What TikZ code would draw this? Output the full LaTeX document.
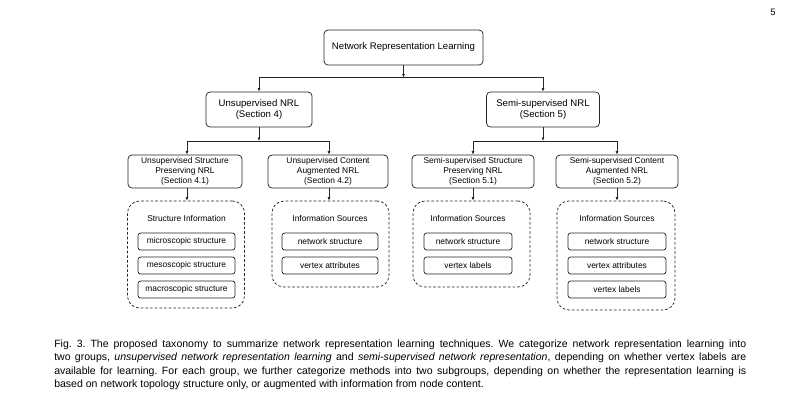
\documentclass[tikz,border=0pt]{standalone}
\usepackage{fontspec}
\setmainfont{Liberation Sans}
\usetikzlibrary{arrows.meta}
\begin{document}
\begin{tikzpicture}[x=0.75pt,y=-0.75pt,
  sz/.style 2 args={minimum width=#1*0.75pt, minimum height=#2*0.75pt},
  box/.style={draw=black!85, line width=0.55pt, rounded corners=3pt, inner sep=0pt, align=center},
  big/.style={box, font=\fontsize{7.2}{8.8}\selectfont},
  mid/.style={box, font=\fontsize{6.3}{7.6}\selectfont},
  item/.style={box, rounded corners=2pt, font=\fontsize{6.3}{7.6}\selectfont, minimum height=17*0.75pt},
  cont/.style={draw=black!85, line width=0.55pt, dashed, dash pattern=on 2pt off 1.5pt, rounded corners=9pt, inner sep=0pt},
  ttl/.style={font=\fontsize{6.3}{7.6}\selectfont, inner sep=0pt},
  arr/.style={draw=black!85, line width=0.55pt, -{Latex[length=2.6pt,width=2.2pt]}},
  ln/.style={draw=black!85, line width=0.55pt}
]
\useasboundingbox (0,0) rectangle (800,415);

% page number
\node[font=\fontsize{7}{8}\selectfont, inner sep=0pt] (pg) at (773,12) {5};

% level 1
\node[big, sz={159}{35}] (top) at (403.5,47.5) {Network Representation Learning};
% level 2
\node[big, sz={106}{35}] (un) at (259,109.5) {Unsupervised NRL\\(Section 4)};
\node[big, sz={113}{35}] (semi) at (543,109.5) {Semi-supervised NRL\\(Section 5)};
% level 3
\node[mid, sz={114}{33}] (l31) at (185,171.5) {Unsupervised Structure\\Preserving NRL\\(Section 4.1)};
\node[mid, sz={120}{33}] (l32) at (328,171.5) {Unsupervised Content\\Augmented NRL\\(Section 4.2)};
\node[mid, sz={122}{33}] (l33) at (473,171.5) {Semi-supervised Structure\\Preserving NRL\\(Section 5.1)};
\node[mid, sz={122}{33}] (l34) at (617,171.5) {Semi-supervised Content\\Augmented NRL\\(Section 5.2)};

% containers
\node[cont, sz={117}{107}] (c1) at (186,254.5) {};
\node[cont, sz={117}{86}] (c2) at (330.5,244) {};
\node[cont, sz={117}{86}] (c3) at (471.5,244) {};
\node[cont, sz={118}{109}] (c4) at (616,255.5) {};

\node[ttl] (t1) at (186.5,218) {Structure Information};
\node[ttl] (t2) at (330,218) {Information Sources};
\node[ttl] (t3) at (468,218) {Information Sources};
\node[ttl] (t4) at (617,218) {Information Sources};

\node[item, minimum width=97*0.75pt] (a1) at (186.5,241.5) {microscopic structure};
\node[item, minimum width=97*0.75pt] (a2) at (186.5,265.5) {mesoscopic structure};
\node[item, minimum width=97*0.75pt] (a3) at (186.5,289.5) {macroscopic structure};

\node[item, minimum width=96*0.75pt] (b1) at (330,241.5) {network structure};
\node[item, minimum width=96*0.75pt] (b2) at (330,265.5) {vertex attributes};

\node[item, minimum width=88*0.75pt] (e1) at (468,241.5) {network structure};
\node[item, minimum width=88*0.75pt] (e2) at (468,265.5) {vertex labels};

\node[item, minimum width=98*0.75pt] (f1) at (617,241.5) {network structure};
\node[item, minimum width=98*0.75pt] (f2) at (617,265.5) {vertex attributes};
\node[item, minimum width=98*0.75pt] (f3) at (617,289.5) {vertex labels};

% connectors level 1 -> 2
\coordinate (j1) at (403.5,77.5);
\draw[arr] (top.south) -- (j1);
\draw[arr] (j1) -| (un.north);
\draw[arr] (j1) -| (semi.north);

% level 2 -> 3
\coordinate (j2) at (259,141);
\coordinate (j3) at (543,141);
\draw[arr] (un.south) -- (j2);
\draw[arr] (semi.south) -- (j3);
\draw[arr] (j2) -| ([xshift=1.5pt]l31.north);
\draw[arr] (j2) -| ([xshift=0.75pt]l32.north);
\draw[arr] (j3) -| (l33.north);
\draw[arr] (j3) -| (l34.north);

% level 3 -> containers
\draw[arr] ([xshift=1.5pt]l31.south) -- ([xshift=1.5pt]l31.south |- c1.north);
\draw[arr] ([xshift=0.75pt]l32.south) -- ([xshift=0.75pt]l32.south |- c2.north);
\draw[arr] (l33.south) -- (l33.south |- c3.north);
\draw[arr] (l34.south) -- (l34.south |- c4.north);

% caption
\node[anchor=north west, inner sep=0pt, text width=519pt, align=justify,
      font=\fontsize{7.9}{10.1}\selectfont\frenchspacing] (cap) at (54,339.5)
{Fig. 3. The proposed taxonomy to summarize network representation learning techniques. We categorize network representation learning into\linebreak
two groups, \textit{unsupervised network representation learning} and \textit{semi-supervised network representation}, depending on whether vertex labels are\linebreak
available for learning. For each group, we further categorize methods into two subgroups, depending on whether the representation learning is\linebreak
based on network topology structure only, or augmented with information from node content.};
\end{tikzpicture}
\end{document}
